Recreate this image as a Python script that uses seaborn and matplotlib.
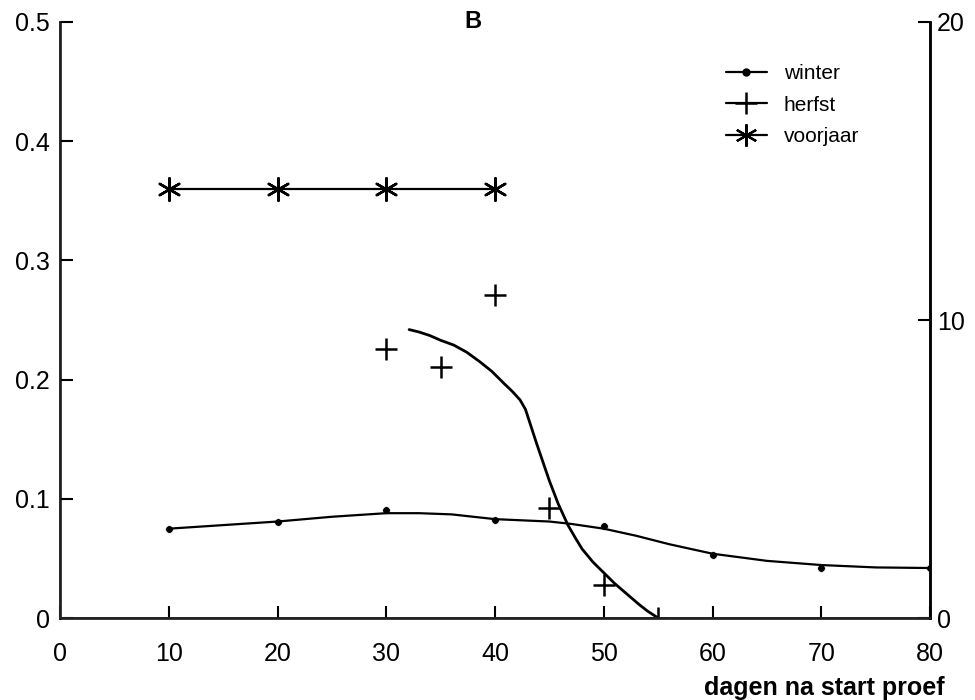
import numpy as np
import pandas as pd
import matplotlib
matplotlib.use("Agg")
import matplotlib.pyplot as plt
from matplotlib.lines import Line2D
import seaborn as sns

# measured points
winter_x = [10, 20, 30, 40, 50, 60, 70, 80]
winter_y = [0.075, 0.081, 0.091, 0.082, 0.077, 0.053, 0.042, 0.042]
herfst_x = [30, 35, 40, 45, 50, 55]
herfst_y = [0.226, 0.211, 0.271, 0.092, 0.028, 0.0]
voorjaar_x = [10, 20, 30, 40]
voorjaar_y = [0.36, 0.36, 0.36, 0.36]

# fitted curves
winter_fit_x = [10, 15, 20, 25, 30, 33, 36, 40, 45, 47, 50, 53, 56, 60, 65, 70, 75, 80]
winter_fit_y = [0.075, 0.078, 0.081, 0.085, 0.088, 0.088, 0.087, 0.083, 0.081, 0.079,
                0.075, 0.069, 0.062, 0.054, 0.048, 0.0445, 0.0425, 0.042]
herfst_fit_x = [32.1, 33.0, 34.0, 35.0, 36.2, 37.4, 38.6, 39.7, 40.8, 41.6, 42.3, 42.8,
                43.3, 43.8, 44.4, 45.0, 45.8, 46.7, 47.4, 48.0, 49.0, 50.0, 51.0,
                52.4, 53.3, 54.0, 55.0]
herfst_fit_y = [0.242, 0.240, 0.237, 0.233, 0.229, 0.223, 0.215, 0.207, 0.197, 0.190,
                0.183, 0.175, 0.161, 0.147, 0.131, 0.115, 0.096, 0.078, 0.067, 0.058,
                0.047, 0.038, 0.029, 0.018, 0.011, 0.006, 0.0]

x_ticks = [0, 10, 20, 30, 40, 50, 60, 70, 80]
left_ticks = [0, 0.1, 0.2, 0.3, 0.4, 0.5]
left_labels = ["0", "0.1", "0.2", "0.3", "0.4", "0.5"]
right_ticks = [0, 10, 20]

sns.set_theme(style="ticks")
plt.rcParams["font.family"] = ["Liberation Sans", "DejaVu Sans"]
plt.rcParams["text.color"] = "black"

fig = plt.figure(figsize=(9.75, 7), dpi=100)
ax = fig.add_axes([0.0615, 0.117, 0.8925, 0.8516])

wf = pd.DataFrame({"x": winter_fit_x, "y": winter_fit_y})
hf = pd.DataFrame({"x": herfst_fit_x, "y": herfst_fit_y})
sns.lineplot(data=wf, x="x", y="y", color="black", lw=1.6, ax=ax)
sns.lineplot(data=hf, x="x", y="y", color="black", lw=2.0, ax=ax)
sns.lineplot(x=voorjaar_x, y=voorjaar_y, color="black", lw=1.6, ax=ax)

sns.scatterplot(x=winter_x, y=winter_y, color="black", marker="o", s=30, ax=ax)
sns.scatterplot(x=herfst_x, y=herfst_y, color="black", marker="+", s=260,
                linewidth=1.8, ax=ax)
sns.scatterplot(x=voorjaar_x, y=voorjaar_y, color="black", marker=(6, 2, 0), s=260,
                linewidth=1.8, ax=ax)

ax.set_xlim(0, 80)
ax.set_ylim(0, 0.5)
ax.set_xticks(x_ticks)
ax.set_yticks(left_ticks)
ax.set_yticklabels(left_labels)
ax.set_xlabel("")
ax.set_ylabel("")
ax.tick_params(direction="in", length=9, width=1.5, labelsize=18, colors="black")
ax.tick_params(axis="x", pad=17)
ax.tick_params(axis="y", pad=7)
ax.spines["top"].set_visible(False)
for s in ["left", "bottom", "right"]:
    ax.spines[s].set_linewidth(1.8)
    ax.spines[s].set_color("black")

ax2 = ax.twinx()
ax2.set_ylim(0, 20)
ax2.set_yticks(right_ticks)
ax2.tick_params(direction="in", length=9, width=1.5, labelsize=18, colors="black",
                pad=5)
ax2.spines["top"].set_visible(False)
ax2.spines["right"].set_linewidth(1.8)
ax2.spines["right"].set_color("black")

handles = [
    Line2D([], [], color="black", lw=1.6, marker="o", markersize=5),
    Line2D([], [], color="black", lw=1.6, marker="+", markersize=16, mew=1.8),
    Line2D([], [], color="black", lw=1.6, marker=(6, 2, 0), markersize=16, mew=1.6),
]
ax.legend(handles, ["winter", "herfst", "voorjaar"], loc="upper left",
          bbox_to_anchor=(0.725, 0.935), bbox_transform=fig.transFigure,
          frameon=False, fontsize=15, handlelength=2.0, labelspacing=0.6)

fig.text(473 / 975, 1 - 22 / 700, "B", fontsize=17, fontweight="bold",
         ha="center", va="center")
fig.text(945 / 975, 1 - 688 / 700, "dagen na start proef", fontsize=18,
         fontweight="bold", ha="right", va="center")

fig.savefig("out.png", dpi=100, facecolor="white")
